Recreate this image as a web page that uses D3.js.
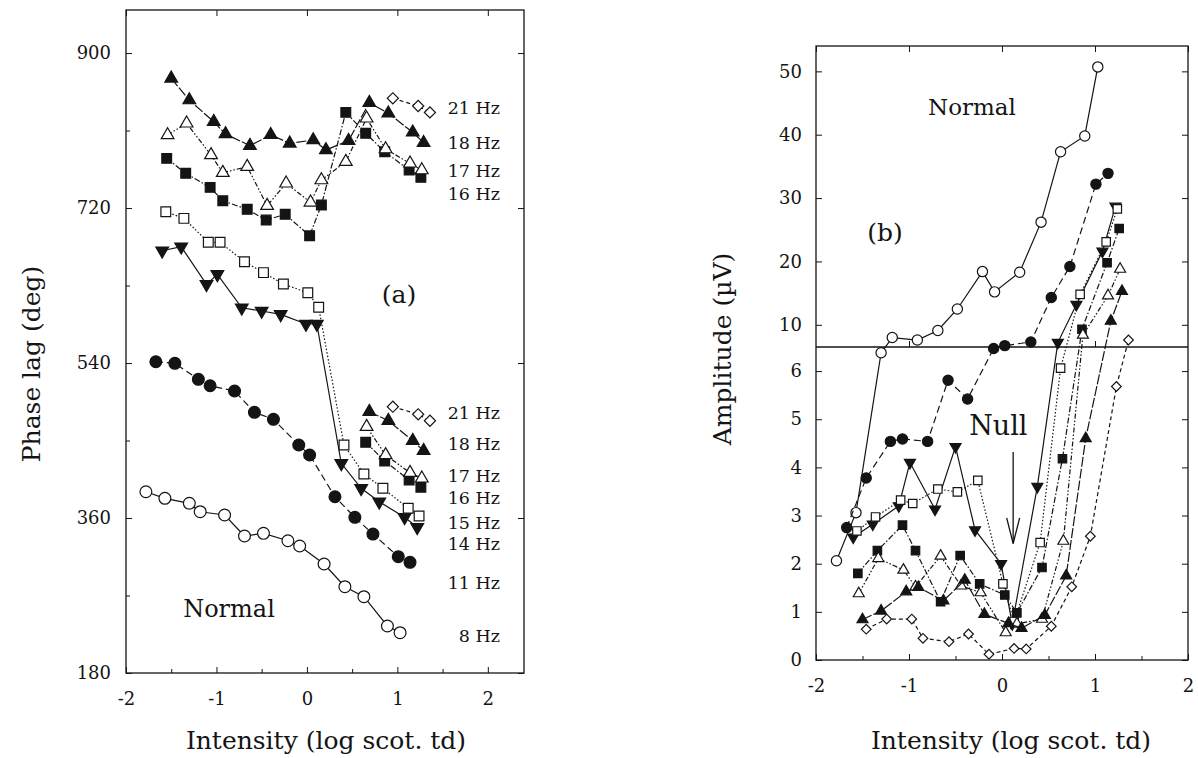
<!DOCTYPE html>
<html><head><meta charset="utf-8">
<script src="https://cdnjs.cloudflare.com/ajax/libs/d3/7.8.5/d3.min.js"></script>
<style>
body{margin:0;background:#fff}
text{font-family:"DejaVu Serif",serif;fill:#141414}
</style>
</head><body>
<svg id="c" width="1198" height="758"></svg>
<script>
// ---------- DATA ----------
const freqLabels = ["8 Hz","11 Hz","14 Hz","15 Hz","16 Hz","17 Hz","18 Hz","21 Hz"];
const xTicks = [-2,-1,0,1,2];
const phaseTicks = [180,360,540,720,900];
const ampTicksLow = [0,1,2,3,4,5,6];
const ampTicksHigh = [10,20,30,40,50];

// intensity (log scot. td)
const int8  = [-1.78,-1.57,-1.30,-1.18,-0.91,-0.69,-0.48,-0.21,-0.08,0.19,0.42,0.63,0.89,1.03];
const int11 = [-1.67,-1.46,-1.20,-1.07,-0.80,-0.58,-0.37,-0.09,0.03,0.31,0.53,0.73,1.01,1.14];
const int14 = [-1.60,-1.39,-1.11,-0.99,-0.72,-0.50,-0.29,-0.01,0.11,0.38,0.60,0.80,1.08,1.22];
const int15 = [-1.56,-1.36,-1.09,-0.96,-0.69,-0.48,-0.26,0.01,0.13,0.41,0.63,0.84,1.12,1.24];
const int16 = [-1.55,-1.34,-1.07,-0.93,-0.66,-0.45,-0.24,0.03,0.16,0.43,0.65,0.86,1.13,1.26];
const int17 = [-1.54,-1.33,-1.06,-0.93,-0.66,-0.44,-0.23,0.04,0.16,0.43,0.66,0.87,1.14,1.27];
const int18 = [-1.50,-1.30,-1.03,-0.90,-0.63,-0.40,-0.19,0.07,0.21,0.46,0.69,0.90,1.17,1.29];
const int21 = [-1.46,-1.24,-0.97,-0.85,-0.57,-0.36,-0.14,0.13,0.26,0.53,0.75,0.95,1.23,1.36];

// phase lag (deg)
const phase8  = [390.5,382.9,377.1,367.3,363.5,339.1,342.2,333.6,327.5,306.6,280.2,268.6,234.6,226.8];
const phase11 = [541.5,539.7,521.1,513.6,507.5,482.8,474.6,444.8,433.2,384.7,360.8,341.4,315.1,308.6];
const phase14 = [670.4,675.1,631.4,643.0,604.2,600.4,596.5,585.3,585.3,423.5,394.5,378.9,360.8,349.2];
const phase15 = [715.7,708.0,680.2,680.2,657.7,645.0,631.7,621.7,604.7,444.8,411.1,394.5,371.3,362.3];
const phase16 = [777.7,760.3,744.0,728.5,718.5,706.0,712.7,687.8,723.5,831.1,806.8,785.4,764.1,755.6];
const phase16Wrapped = [null,null,null,null,null,null,null,null,null,null,447.9,426.2,404.1,395.7];
const phase17 = [804.8,818.4,781.6,761.0,768.0,722.7,748.7,726.6,752.5,773.8,824.2,788.5,771.9,764.1];
const phase17Wrapped = [null,null,null,null,null,null,null,null,null,null,466.0,433.2,412.6,406.1];
const phase18 = [870.6,845.4,820.2,806.0,792.4,805.0,795.1,799.0,787.4,798.2,842.3,830.0,808.0,795.8];
const phase18Wrapped = [null,null,null,null,null,null,null,null,null,null,483.5,473.0,449.8,438.2];
const phase21 = [null,null,null,null,null,null,null,null,null,null,null,847.4,838.5,831.1];
const phase21Wrapped = [null,null,null,null,null,null,null,null,null,null,null,489.3,480.4,473.0];

// amplitude (uV)
const amp8  = [2.06,3.06,6.38,7.99,7.6,9.1,12.5,18.4,15.2,18.3,26.2,37.3,39.8,50.7];
const amp11 = [2.75,3.78,4.54,4.59,4.54,5.81,5.42,6.47,6.72,7.3,14.3,19.2,32.2,33.9];
const amp14 = [2.55,2.82,3.2,4.1,3.13,4.43,2.7,2.0,0.75,3.6,7.2,13.2,21.6,28.7];
const amp15 = [2.68,2.97,3.32,3.25,3.55,3.49,3.73,1.58,0.8,2.44,6.06,14.8,23.1,28.3];
const amp16 = [1.8,2.27,2.8,2.27,1.21,2.17,1.58,1.35,0.98,1.92,4.18,9.3,19.8,25.2];
const amp17 = [1.38,2.11,1.87,1.52,2.16,1.54,1.4,0.57,0.75,0.85,2.47,8.4,14.6,18.8];
const amp18 = [0.84,1.02,1.42,1.51,1.23,1.66,0.95,0.76,0.66,0.93,1.75,4.6,10.6,15.3];
const amp21 = [0.64,0.85,0.85,0.45,0.38,0.54,0.12,0.24,0.23,0.7,1.52,2.57,5.68,7.6];

// ---------- SETUP ----------
const ink = "#141414";
const svg = d3.select("#c");
const FONT = "DejaVu Serif, serif";
const fmt = d => String(d);

const series = [
  {name:"8 Hz",  x:int8,  ph:phase8,  phw:null,           amp:amp8,  sym:"circle",  fill:false, dash:null},
  {name:"11 Hz", x:int11, ph:phase11, phw:null,           amp:amp11, sym:"circle",  fill:true,  dash:"7,4"},
  {name:"14 Hz", x:int14, ph:phase14, phw:null,           amp:amp14, sym:"down",    fill:true,  dash:null},
  {name:"15 Hz", x:int15, ph:phase15, phw:null,           amp:amp15, sym:"square",  fill:false, dash:"1.5,2"},
  {name:"16 Hz", x:int16, ph:phase16, phw:phase16Wrapped, amp:amp16, sym:"square",  fill:true,  dash:"6,2,1.5,2"},
  {name:"17 Hz", x:int17, ph:phase17, phw:phase17Wrapped, amp:amp17, sym:"triangle",fill:false, dash:"5,2,1.5,2,1.5,2"},
  {name:"18 Hz", x:int18, ph:phase18, phw:phase18Wrapped, amp:amp18, sym:"triangle",fill:true,  dash:"10,2"},
  {name:"21 Hz", x:int21, ph:phase21, phw:phase21Wrapped, amp:amp21, sym:"diamond", fill:false, dash:"4,3"}
];

function symPath(type, big){
  const k = big ? 1 : 0.75;
  if(type==="circle") return d3.symbol().type(d3.symbolCircle).size(110*k)();
  if(type==="square") return d3.symbol().type(d3.symbolSquare).size(95*k)();
  if(type==="diamond") return d3.symbol().type(d3.symbolSquare).size(62*k)();
  return d3.symbol().type(d3.symbolTriangle).size(70*k)();
}
function symRot(type){ return type==="down" ? 180 : (type==="diamond" ? 45 : 0); }

function drawSeries(g, xs, ys, xScale, yFn, s, big){
  const pts = xs.map((x,i)=>({x, v: ys[i]}));
  const line = d3.line().defined(d=>d.v!=null).x(d=>xScale(d.x)).y(d=>yFn(d.v));
  g.append("path").attr("d", line(pts)).attr("fill","none").attr("stroke",ink)
    .attr("stroke-width",1.2).attr("stroke-dasharray", s.dash);
  g.selectAll(null).data(pts.filter(d=>d.v!=null)).enter().append("path")
    .attr("d", symPath(s.sym, big))
    .attr("transform", d=>`translate(${xScale(d.x)},${yFn(d.v)}) rotate(${symRot(s.sym)})`)
    .attr("fill", s.fill ? ink : "#fff").attr("stroke", ink).attr("stroke-width", 1.2);
}

function styleAxis(g, size){
  g.attr("font-family", FONT).attr("font-size", size).style("color", ink);
  g.select(".domain").remove();
  g.selectAll("text").attr("fill", ink);
}

// ---------- PANEL (a) ----------
const xA = d3.scaleLinear().domain([-2, 2.4]).range([126, 524]);
const yA = d3.scaleLinear().domain([180, 950]).range([673, 10]);
const gA = svg.append("g");

gA.append("g").attr("transform","translate(0,673)")
  .call(d3.axisBottom(xA).tickValues(xTicks).tickSize(-6).tickPadding(19).tickFormat(fmt))
  .call(g=>styleAxis(g,18));
gA.append("g").attr("transform","translate(0,673)")
  .call(d3.axisBottom(xA).tickValues([-1.5,-0.5,0.5,1.5]).tickSize(-4).tickFormat(""))
  .call(g=>styleAxis(g,18));
gA.append("g").attr("transform","translate(0,10)")
  .call(d3.axisTop(xA).tickValues(xTicks).tickSize(-6).tickFormat(""))
  .call(g=>styleAxis(g,18));
gA.append("g").attr("transform","translate(126,0)")
  .call(d3.axisLeft(yA).tickValues(phaseTicks).tickSize(-6).tickPadding(15).tickFormat(fmt))
  .call(g=>styleAxis(g,18));
gA.append("g").attr("transform","translate(126,0)")
  .call(d3.axisLeft(yA).tickValues([270,450,630,810]).tickSize(-4).tickFormat(""))
  .call(g=>styleAxis(g,18));
gA.append("g").attr("transform","translate(524,0)")
  .call(d3.axisRight(yA).tickValues(phaseTicks).tickSize(-6).tickFormat(""))
  .call(g=>styleAxis(g,18));
gA.append("rect").attr("x",126).attr("y",10).attr("width",398).attr("height",663)
  .attr("fill","none").attr("stroke",ink).attr("stroke-width",1.3);

series.forEach(s=>{
  drawSeries(gA, s.x, s.ph, xA, yA, s, true);
  if(s.phw) drawSeries(gA, s.x, s.phw, xA, yA, s, true);
});

// frequency labels (a)
const upperLabelY = [107,142,170,193];
["21 Hz","18 Hz","17 Hz","16 Hz"].forEach((t,i)=>
  gA.append("text").attr("x",500).attr("y",upperLabelY[i]+6.5).attr("text-anchor","end")
    .attr("font-size",17.5).text(t));
const lowerLabelY = [412,443,475,497,522,543,582,635];
["21 Hz","18 Hz","17 Hz","16 Hz","15 Hz","14 Hz","11 Hz","8 Hz"].forEach((t,i)=>
  gA.append("text").attr("x",500).attr("y",lowerLabelY[i]+6.5).attr("text-anchor","end")
    .attr("font-size",17.5).text(t));

gA.append("text").attr("x",399).attr("y",303).attr("text-anchor","middle").attr("font-size",25).text("(a)");
gA.append("text").attr("x",229).attr("y",617).attr("text-anchor","middle").attr("font-size",24).text("Normal");
gA.append("text").attr("x",326).attr("y",749).attr("text-anchor","middle").attr("font-size",25).text("Intensity (log scot. td)");
gA.append("text").attr("transform","translate(40,364) rotate(-90)").attr("text-anchor","middle")
  .attr("font-size",25).text("Phase lag (deg)");

// ---------- PANEL (b) ----------
const xB = d3.scaleLinear().domain([-2, 2]).range([816, 1188]);
const yBlow = d3.scaleLinear().domain([0, 6.5]).range([660, 347]);
const yBhigh = d3.scaleLinear().domain([6.5, 54]).range([347, 46]);
const yB = v => v <= 6.5 ? yBlow(v) : yBhigh(v);
const gB = svg.append("g");

gB.append("g").attr("transform","translate(0,660)")
  .call(d3.axisBottom(xB).tickValues(xTicks).tickSize(-6).tickPadding(19).tickFormat(fmt))
  .call(g=>styleAxis(g,18));
gB.append("g").attr("transform","translate(0,660)")
  .call(d3.axisBottom(xB).tickValues([-1.5,-0.5,0.5,1.5]).tickSize(-4).tickFormat(""))
  .call(g=>styleAxis(g,18));
gB.append("g").attr("transform","translate(0,46)")
  .call(d3.axisTop(xB).tickValues(xTicks).tickSize(-6).tickFormat(""))
  .call(g=>styleAxis(g,18));
gB.append("g").attr("transform","translate(0,347)")
  .call(d3.axisBottom(xB).tickValues([-1,0,1]).tickSize(-6).tickFormat(""))
  .call(g=>styleAxis(g,18));
gB.append("g").attr("transform","translate(816,0)")
  .call(d3.axisLeft(yBlow).tickValues(ampTicksLow).tickSize(-6).tickPadding(14).tickFormat(fmt))
  .call(g=>styleAxis(g,18));
gB.append("g").attr("transform","translate(816,0)")
  .call(d3.axisLeft(yBhigh).tickValues(ampTicksHigh).tickSize(-6).tickPadding(14).tickFormat(fmt))
  .call(g=>styleAxis(g,18));
gB.append("g").attr("transform","translate(1188,0)")
  .call(d3.axisRight(yBlow).tickValues(ampTicksLow).tickSize(-6).tickFormat(""))
  .call(g=>styleAxis(g,18));
gB.append("g").attr("transform","translate(1188,0)")
  .call(d3.axisRight(yBhigh).tickValues(ampTicksHigh).tickSize(-6).tickFormat(""))
  .call(g=>styleAxis(g,18));
gB.append("rect").attr("x",816).attr("y",46).attr("width",372).attr("height",614)
  .attr("fill","none").attr("stroke",ink).attr("stroke-width",1.3);
gB.append("line").attr("x1",816).attr("x2",1188).attr("y1",yBlow(6.5)).attr("y2",yBlow(6.5))
  .attr("stroke",ink).attr("stroke-width",1.3);

series.forEach(s=> drawSeries(gB, s.x, s.amp, xB, yB, s, false));

gB.append("text").attr("x",972).attr("y",115).attr("text-anchor","middle").attr("font-size",23).text("Normal");
gB.append("text").attr("x",885).attr("y",241).attr("text-anchor","middle").attr("font-size",25).text("(b)");
gB.append("text").attr("x",xB(-0.04)).attr("y",yBlow(4.67)).attr("text-anchor","middle").attr("font-size",27).text("Null");
// arrow
const ax = xB(0.12);
gB.append("line").attr("x1",ax).attr("x2",ax).attr("y1",yBlow(4.32)).attr("y2",yBlow(2.42))
  .attr("stroke",ink).attr("stroke-width",1.3);
gB.append("path").attr("d",`M${ax-6.5},${yBlow(2.95)} L${ax},${yBlow(2.42)} L${ax+6.5},${yBlow(2.95)}`)
  .attr("fill","none").attr("stroke",ink).attr("stroke-width",1.3);
gB.append("text").attr("x",1011).attr("y",749).attr("text-anchor","middle").attr("font-size",25).text("Intensity (log scot. td)");
gB.append("text").attr("transform","translate(731,349) rotate(-90)").attr("text-anchor","middle")
  .attr("font-size",25).text("Amplitude (\u00B5V)");
</script>
</body></html>
